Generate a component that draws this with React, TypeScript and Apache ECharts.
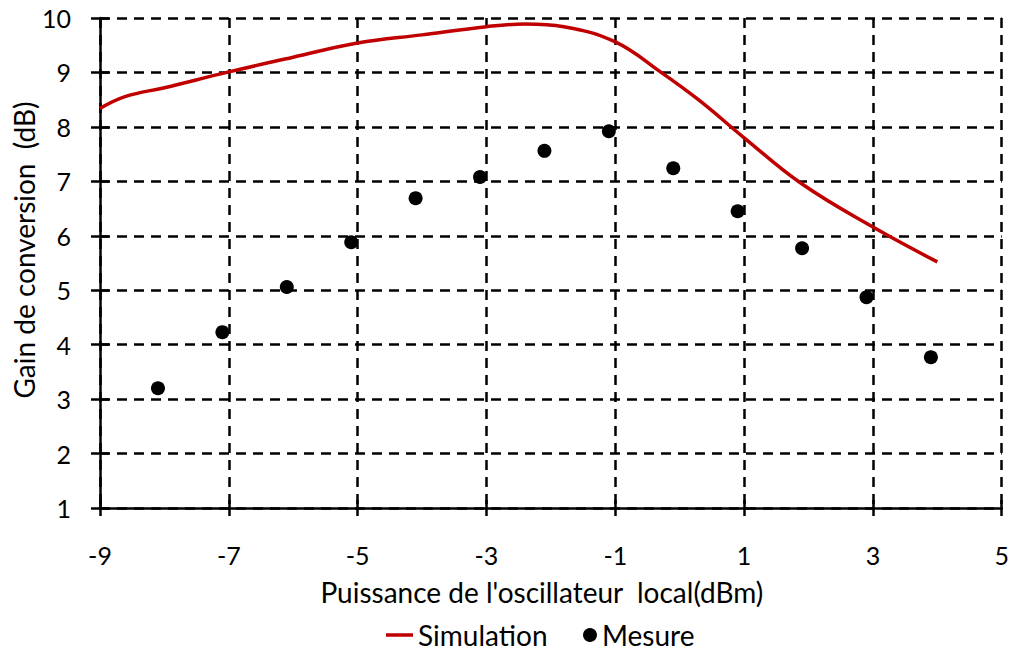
import React, { useEffect, useRef } from 'react';
import * as echarts from 'echarts';

const xTicks = [-9, -7, -5, -3, -1, 1, 3, 5];
const yTicks = [1, 2, 3, 4, 5, 6, 7, 8, 9, 10];

const simX = [-9, -8.6, -8, -7, -6, -5, -4, -3, -2.4, -1.8, -1, -0.3, 0.3, 1, 1.9, 3, 4];
const simY = [8.34, 8.56, 8.72, 9.01, 9.28, 9.54, 9.69, 9.84, 9.89, 9.84, 9.56, 9.01, 8.49, 7.8, 6.95, 6.16, 5.52];

const mesX = [-8.1, -7.1, -6.1, -5.1, -4.1, -3.1, -2.1, -1.1, -0.1, 0.9, 1.9, 2.9, 3.9];
const mesY = [3.2, 4.23, 5.06, 5.88, 6.69, 7.08, 7.56, 7.92, 7.24, 6.45, 5.77, 4.87, 3.77];

const FONT = 'Lato';

export default function App() {
  const ref = useRef<HTMLDivElement>(null);
  useEffect(() => {
    const chart = echarts.init(ref.current!, null, { renderer: 'svg' });
    const axisLS = { color: '#000', width: 2.5 };
    const gridLS = { color: '#000', width: 2.5, type: [10, 7] };
    const labelStyle = { fontSize: 25, color: '#000', fontFamily: FONT };
    const textStyle = { fontSize: 28, color: '#000', fontFamily: FONT };
    const legendText = { ...textStyle, lineHeight: 28 };
    chart.setOption({
      animation: false,
      backgroundColor: '#fff',
      textStyle: { fontFamily: FONT },
      grid: { left: 100, right: 10, top: 18, bottom: 145, containLabel: false },
      xAxis: [
        {
          type: 'value', min: -9, max: 5, position: 'bottom',
          axisLine: { show: true, onZero: false, lineStyle: axisLS },
          axisTick: { show: true, length: 8, customValues: xTicks, lineStyle: axisLS },
          axisLabel: { customValues: xTicks, margin: 34, ...labelStyle },
          splitLine: { show: true, lineStyle: gridLS },
          name: "Puissance de l'oscillateur  local(dBm)",
          nameLocation: 'middle', nameGap: 70,
          nameTextStyle: { ...textStyle, padding: [0, 18, 0, 0] },
        },
        {
          type: 'value', min: -9, max: 5, position: 'bottom',
          axisLine: { show: false, onZero: false },
          axisTick: { show: true, inside: true, length: 8, customValues: xTicks, lineStyle: axisLS },
          axisLabel: { show: false },
          splitLine: { show: false },
        },
      ],
      yAxis: [
        {
          type: 'value', min: 1, max: 10, interval: 1, position: 'left',
          axisLine: { show: true, onZero: false, lineStyle: axisLS },
          axisTick: { show: true, length: 9, customValues: yTicks, lineStyle: axisLS },
          axisLabel: { customValues: yTicks, margin: 29, ...labelStyle },
          splitLine: { show: true, lineStyle: gridLS },
        },
        {
          type: 'value', min: 1, max: 10, interval: 1, position: 'left',
          axisLine: { show: false, onZero: false },
          axisTick: { show: true, inside: true, length: 9, customValues: yTicks, lineStyle: axisLS },
          axisLabel: { show: false },
          splitLine: { show: false },
        },
      ],
      legend: [
        {
          data: ['Simulation'], left: 386, top: 621, padding: 0, icon: 'rect',
          itemWidth: 27, itemHeight: 3.5, selectedMode: false,
          textStyle: legendText,
        },
        {
          data: ['Mesure'], left: 583, top: 621, padding: 0, icon: 'circle',
          itemWidth: 14, itemHeight: 14, selectedMode: false,
          textStyle: legendText,
        },
      ],
      graphic: [
        {
          type: 'text', x: 24, y: 250, rotation: Math.PI / 2,
          style: {
            text: 'Gain de conversion  (dB)', fontSize: 28, fontFamily: FONT, fill: '#000',
            textAlign: 'center', textVerticalAlign: 'middle',
          },
        },
      ],
      series: [
        {
          name: 'Simulation', type: 'line', smooth: 0.4, symbol: 'none', showSymbol: false,
          lineStyle: { color: '#C00000', width: 3.5 },
          itemStyle: { color: '#C00000' },
          data: simX.map((x, i) => [x, simY[i]]),
          z: 3,
        },
        {
          name: 'Mesure', type: 'scatter', symbol: 'circle', symbolSize: 14,
          itemStyle: { color: '#000', opacity: 1 },
          data: mesX.map((x, i) => [x, mesY[i]]),
          z: 4,
        },
      ],
    });
    return () => chart.dispose();
  }, []);
  return (
    <div
      ref={ref}
      style={{ position: 'fixed', left: 0, top: 0, width: 1012, height: 653, background: '#fff' }}
    />
  );
}
